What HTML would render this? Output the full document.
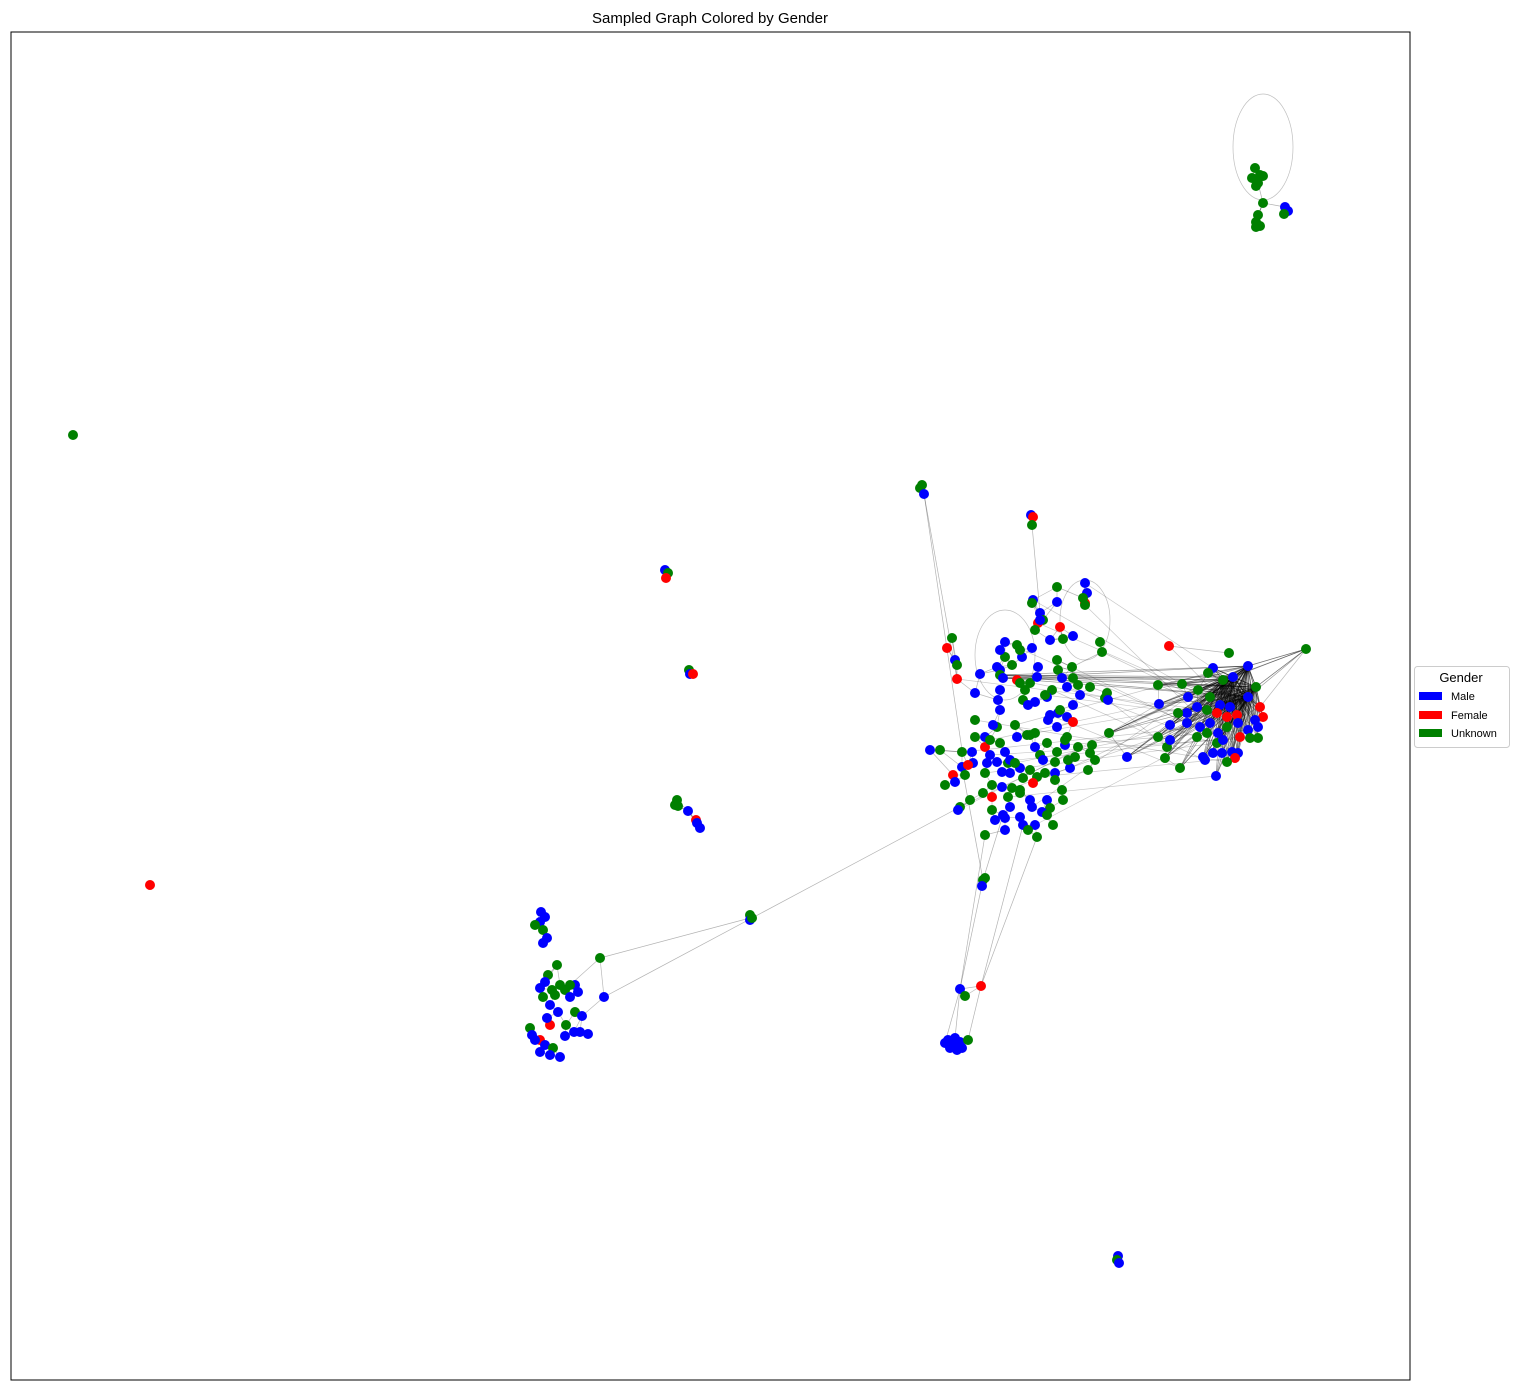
<!DOCTYPE html>
<html><head><meta charset="utf-8"><style>
html,body{margin:0;padding:0;background:#fff;}
svg{display:block;font-family:"Liberation Sans","DejaVu Sans",sans-serif;}
</style></head><body>
<svg id="chart" width="1520" height="1390" viewBox="0 0 1520 1390">
<rect x="0" y="0" width="1520" height="1390" fill="#fff"/>
<text x="710" y="23" text-anchor="middle" font-size="15" fill="#000">Sampled Graph Colored by Gender</text>
<g id="edges"></g>
<g id="nodes"></g>
<rect x="11" y="32" width="1399" height="1348" fill="none" stroke="#000" stroke-width="1"/>
<g>
<rect x="1414.5" y="666.5" width="95" height="81" rx="3" fill="#fff" stroke="#ccc"/>
<text x="1461" y="682" text-anchor="middle" font-size="13">Gender</text>
<rect x="1419" y="692" width="23" height="8" fill="#0000ff"/>
<text x="1451" y="700" font-size="11">Male</text>
<rect x="1419" y="711" width="23" height="8" fill="#ff0000"/>
<text x="1451" y="719" font-size="11">Female</text>
<rect x="1419" y="729" width="23" height="8" fill="#008000"/>
<text x="1451" y="737" font-size="11">Unknown</text>
</g>
</svg>
<script>
const genderNames = ["Male","Female","Unknown"];
const genderColors = ["#0000ff","#ff0000","#008000"];
const nodeX = [73,150,
1255,1260,1252,1258,1263,1256,1263,1258,1256,1260,1256,1285,1288,1284,
922,920,924, 1031,1033,1032, 665,668,666, 689,690,693,
677,675,678,696,697,700,688, 750,750,752, 1118,1117,1119,
948,952,957,960,955,962,968,950,945,960,965,981,983,985,982,
541,545,540,535,543,547,543,557,548,545,540,552,560,565,575,578,570,543,600,604,550,558,575,582,566,574,580,588,565,550,530,540,535,545,553,540,550,560,532,570,555,547,
1085,1057,1087,1085,1083,1033,1032,1057,1040,1043,1038,1060,1073,1063,1100,1102,952,947,955,957,957,975,980,1000,997,1005,1017,1032,1022,1005,1017,1020,1030,1037,1038,1057,1058,1072,1073,1062,1067,1078,1090,1107,1105,1052,1047,1035,1023,1000,1050,1058,1067,1073,1073,1015,997,985,975,985,990,1000,1005,1017,1027,1035,1035,1047,1057,1067,1065,1078,1075,1090,1095,1070,1057,1055,930,940,962,972,962,973,987,997,1008,953,955,965,985,1002,1010,1020,1030,1037,1045,1055,992,1002,1012,1023,1033,983,992,1008,1020,1030,1047,1063,960,970,992,1010,1020,1032,1050,995,1005,1023,1035,1037,1053,985,1003,
1169,1229,1306,1248,1256,1213,1208,1223,1233,1158,1182,1188,1198,1210,1220,1230,1248,1260,1263,1255,1258,1248,1237,1227,1217,1207,1197,1187,1178,1170,1187,1200,1210,1218,1227,1238,1240,1250,1258,1197,1207,1217,1223,1222,1232,1238,1235,1227,1213,1203,1205,1158,1167,1170,1165,1180,1216,1109,1127,1159,
1000,1003,998,1025,1028,1045,1048,1060,1065,1010,1015,1040,1043,1055,1020,990,993,1030,1068,1080,1085,1050,1035,1012,1000,975,968,1042,1062,1088,1108,1092,1005,1028,1047,958,945,1000,1020,1040];
const nodeY = [435,885,
168,175,178,183,176,186,203,215,222,226,227,207,211,214,
485,488,494, 515,517,525, 570,573,578, 670,674,674,
800,805,806,820,823,828,811, 915,920,918, 1256,1260,1263,
1040,1045,1050,1042,1038,1048,1040,1048,1043,989,996,986,880,878,886,
912,917,922,925,930,938,943,965,975,982,988,990,985,990,985,992,997,997,958,997,1005,1012,1012,1016,1025,1032,1032,1034,1036,1025,1028,1040,1040,1045,1048,1052,1055,1057,1035,985,995,1018,
583,587,593,603,598,600,603,602,613,620,623,627,636,639,642,652,638,648,660,665,679,693,674,670,667,642,645,648,657,657,680,683,683,677,667,660,670,667,678,678,687,685,687,693,698,690,697,702,700,710,715,713,717,705,722,725,727,737,737,747,740,743,752,737,735,733,747,743,727,737,745,747,757,753,760,768,752,762,750,750,752,752,767,763,763,762,763,775,782,775,773,772,773,768,770,777,773,773,785,787,788,778,783,793,797,797,793,800,800,800,807,800,810,807,817,807,808,820,818,825,825,837,825,835,815,
646,653,649,666,687,668,673,680,677,685,684,697,690,697,705,707,697,707,717,720,727,730,715,717,713,710,707,713,713,725,723,727,723,733,727,723,737,738,738,737,733,743,740,753,752,753,758,762,753,757,760,737,747,740,758,768,776,733,757,704,
675,678,700,690,705,695,720,710,740,760,763,755,760,780,790,755,725,735,760,695,605,640,630,665,690,720,765,812,790,770,700,745,830,830,815,810,785,650,650,620];
const nodeG = [2,1,
2,2,2,2,2,2,2,2,2,2,2,0,0,2,
2,2,0, 0,1,2, 0,2,1, 2,0,1,
2,2,2,1,0,0,0, 2,0,2, 0,2,0,
0,0,0,0,0,0,2,0,0,0,2,1,2,2,0,
0,0,0,2,2,0,0,2,2,0,0,2,2,2,0,0,0,2,2,0,0,0,2,0,2,0,0,0,0,1,2,1,0,0,2,0,0,0,0,2,2,0,
0,2,0,1,2,0,2,0,0,2,1,1,0,2,2,2,2,1,0,2,1,0,0,0,0,0,2,0,0,2,1,2,2,0,0,2,2,2,2,0,0,2,2,2,2,2,0,0,2,0,0,0,0,0,1,2,2,0,2,1,2,2,0,0,2,2,0,2,0,2,0,2,2,2,2,0,2,2,0,2,2,0,0,0,0,0,2,1,0,2,2,0,0,0,2,2,2,0,2,0,2,2,1,2,1,2,2,0,0,2,2,2,2,0,0,0,2,0,0,0,0,2,2,2,0,1,2,2,
0,2,0,2,2,0,2,2,0,2,2,0,0,0,1,1,0,0,0,1,1,1,2,0,0,2,0,0,0,0,0,2,0,1,2,2,2,2,2,0,0,0,0,1,2,0,0,0,2,2,0,2,2,0,2,0,0,2,0,0,
2,0,2,0,2,2,0,2,2,0,2,2,0,0,2,2,0,2,0,2,2,0,2,1,0,2,2,0,2,0,2,2,0,2,0,2,0,2,0,2];
const clusterSizes = [1,1,14,3,3,3,3,7,3,3,15,42,127,60,40];
const longEdges = [[924,494,957,679],[924,494,962,750],[1032,525,1040,613],[604,997,960,807],[600,958,750,918],
[960,989,983,880],[960,989,985,835],[981,986,1023,825],[968,1040,981,986],[955,1038,960,989],[983,880,1003,815],[983,880,962,767],
[1263,203,1258,183],[1263,203,1285,207],[1263,203,1258,215],[945,1043,960,989],[981,986,1037,837]];

const X0=11, X1=1410, Y0=32, Y1=1380;
function xs(v){return X0+(v-11)*(X1-X0)/1399;}
function ys(v){return Y0+(v-32)*(Y1-Y0)/1348;}
const NS="http://www.w3.org/2000/svg";
const eg=document.getElementById('edges'), ng=document.getElementById('nodes');
const n=nodeX.length, cl=[];
let ci=0,cnt=0; for(let i=0;i<n;i++){while(cnt>=clusterSizes[ci]&&ci<clusterSizes.length-1){ci++;cnt=0;}cl.push(ci);cnt++;}
for(let i=0;i<n;i++){if(cl[i]===14)cl[i]=12;}
function line(a,b,c,d,op){const l=document.createElementNS(NS,'line');
l.setAttribute('x1',xs(a));l.setAttribute('y1',ys(b));l.setAttribute('x2',xs(c));l.setAttribute('y2',ys(d));
l.setAttribute('stroke','#000');l.setAttribute('stroke-opacity',op);l.setAttribute('stroke-width','0.7');


eg.appendChild(l);}
for(let i=0;i<n;i++){const d=[];for(let j=0;j<n;j++){if(j!==i&&cl[j]===cl[i])d.push([Math.hypot(nodeX[i]-nodeX[j],nodeY[i]-nodeY[j]),j]);}
d.sort((a,b)=>a[0]-b[0]);for(let k=0;k<Math.min(3,d.length);k++){const j=d[k][1];if(j>i)line(nodeX[i],nodeY[i],nodeX[j],nodeY[j],0.28);}}
const rc=13; const hubs=[];
for(let i=0;i<n;i++){if(cl[i]===rc&&nodeY[i]<700&&nodeX[i]>1220&&nodeX[i]<1265)hubs.push(i);}
for(let i=0;i<n;i++){if(cl[i]===rc){hubs.forEach(h=>{if(h!==i)line(nodeX[i],nodeY[i],nodeX[h],nodeY[h],0.4);});}}
let mi=0;const rs=clusterSizes.slice(0,13).reduce((a,b)=>a+b,0);
for(let i=0;i<n;i++){if(cl[i]===12){if(mi%5===0){const j=rs+3+(mi%54);line(nodeX[i],nodeY[i],nodeX[j],nodeY[j],0.22);}mi++;}}
longEdges.forEach(e=>line(e[0],e[1],e[2],e[3],0.3));
[[1263,147,30,53],[1005,655,30,45],[1085,620,25,40]].forEach(e=>{const el=document.createElementNS(NS,'ellipse');
el.setAttribute('cx',xs(e[0]));el.setAttribute('cy',ys(e[1]));el.setAttribute('rx',e[2]);el.setAttribute('ry',e[3]);
el.setAttribute('fill','none');el.setAttribute('stroke','#000');el.setAttribute('stroke-opacity','0.25');el.setAttribute('stroke-width','0.7');


eg.appendChild(el);});
for(let i=0;i<n;i++){const c=document.createElementNS(NS,'circle');
c.setAttribute('cx',xs(nodeX[i]));c.setAttribute('cy',ys(nodeY[i]));c.setAttribute('r','5');c.setAttribute('fill',genderColors[nodeG[i]]);


ng.appendChild(c);}
</script>
</body></html>
